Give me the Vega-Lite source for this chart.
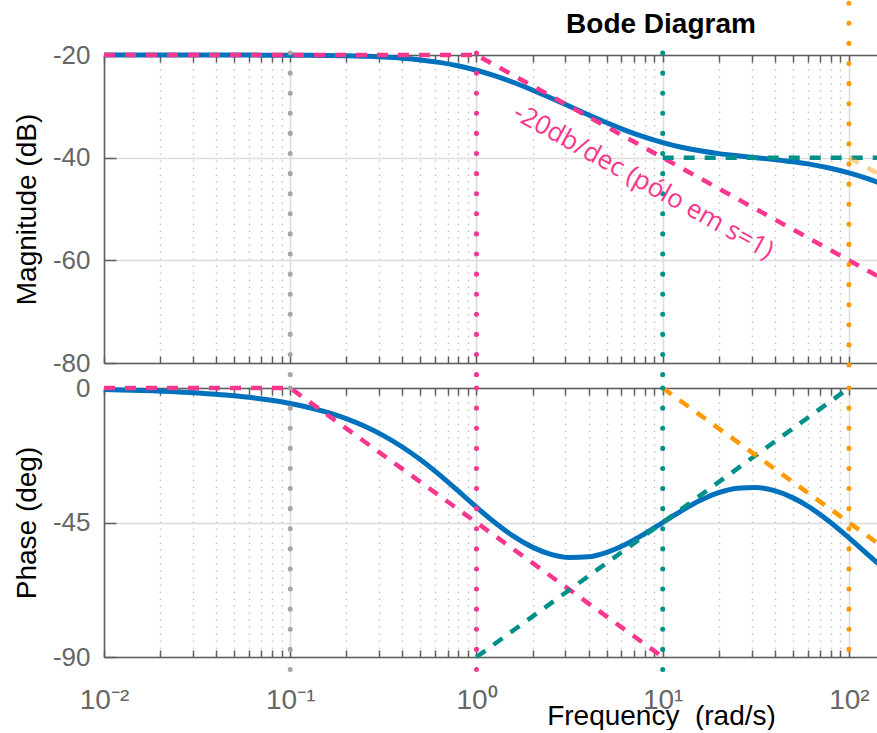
{
  "$schema": "https://vega.github.io/schema/vega-lite/v6.json",
  "autosize": {"type": "pad"},
  "padding": {"left": 12, "top": 0, "right": -3, "bottom": 0},
  "background": "white",
  "config": {
    "view": {"stroke": null},
    "font": "Liberation Sans",
    "axis": {"labelFont": "Liberation Sans", "titleFont": "Liberation Sans"},
    "title": {"font": "Liberation Sans"}
  },
  "datasets": {
    "resp": [
      {"w": 0.01, "mag": -20.00, "phase": -0.52},
      {"w": 0.01585, "mag": -20.00, "phase": -0.83},
      {"w": 0.02512, "mag": -20.00, "phase": -1.31},
      {"w": 0.03981, "mag": -20.01, "phase": -2.08},
      {"w": 0.05012, "mag": -20.01, "phase": -2.61},
      {"w": 0.0631, "mag": -20.02, "phase": -3.29},
      {"w": 0.07943, "mag": -20.03, "phase": -4.13},
      {"w": 0.1, "mag": -20.04, "phase": -5.20},
      {"w": 0.1259, "mag": -20.07, "phase": -6.53},
      {"w": 0.1585, "mag": -20.11, "phase": -8.19},
      {"w": 0.1995, "mag": -20.17, "phase": -10.25},
      {"w": 0.2512, "mag": -20.26, "phase": -12.80},
      {"w": 0.3162, "mag": -20.41, "phase": -15.92},
      {"w": 0.3981, "mag": -20.63, "phase": -19.65},
      {"w": 0.5012, "mag": -20.96, "phase": -24.04},
      {"w": 0.631, "mag": -21.44, "phase": -29.00},
      {"w": 0.7943, "mag": -22.10, "phase": -34.37},
      {"w": 1, "mag": -22.97, "phase": -39.86},
      {"w": 1.259, "mag": -24.06, "phase": -45.09},
      {"w": 1.585, "mag": -25.35, "phase": -49.65},
      {"w": 1.995, "mag": -26.81, "phase": -53.24},
      {"w": 2.512, "mag": -28.38, "phase": -55.64},
      {"w": 3.162, "mag": -30.00, "phase": -56.71},
      {"w": 3.981, "mag": -31.63, "phase": -56.48},
      {"w": 5.012, "mag": -33.21, "phase": -54.97},
      {"w": 6.31, "mag": -34.67, "phase": -52.36},
      {"w": 7.943, "mag": -35.97, "phase": -48.90},
      {"w": 10, "mag": -37.08, "phase": -45.00},
      {"w": 12.59, "mag": -37.97, "phase": -41.10},
      {"w": 15.85, "mag": -38.67, "phase": -37.65},
      {"w": 19.95, "mag": -39.21, "phase": -35.03},
      {"w": 25.12, "mag": -39.63, "phase": -33.52},
      {"w": 31.62, "mag": -40.00, "phase": -33.29},
      {"w": 39.81, "mag": -40.38, "phase": -34.36},
      {"w": 50.12, "mag": -40.81, "phase": -36.76},
      {"w": 63.1, "mag": -41.35, "phase": -40.34},
      {"w": 79.43, "mag": -42.06, "phase": -44.92},
      {"w": 100, "mag": -42.97, "phase": -50.14},
      {"w": 125.9, "mag": -44.10, "phase": -55.63},
      {"w": 145, "mag": -44.91, "phase": -58.95}
    ],
    "asymMag": [
      {"series": "pole1", "w": 0.01, "mag": -20},
      {"series": "pole1", "w": 1, "mag": -20},
      {"series": "pole1", "w": 145, "mag": -63.23},
      {"series": "zero10", "w": 10, "mag": -40},
      {"series": "zero10", "w": 145, "mag": -40},
      {"series": "pole100", "w": 100, "mag": -40},
      {"series": "pole100", "w": 145, "mag": -43.23}
    ],
    "asymPhase": [
      {"series": "pole1", "w": 0.01, "phase": 0},
      {"series": "pole1", "w": 0.1, "phase": 0},
      {"series": "pole1", "w": 10, "phase": -90},
      {"series": "zero10", "w": 1, "phase": -90},
      {"series": "zero10", "w": 100, "phase": 0},
      {"series": "pole100", "w": 10, "phase": 0},
      {"series": "pole100", "w": 145, "phase": -52.26}
    ],
    "guides": [
      {"series": "ref", "w": 0.1, "magTop": -19.6, "magEnd": -84, "phTop": 0, "phEnd": -95},
      {"series": "pole1", "w": 1, "magTop": -19.6, "magEnd": -84, "phTop": 0, "phEnd": -95},
      {"series": "zero10", "w": 10, "magTop": -19.6, "magEnd": -84, "phTop": 0, "phEnd": -95},
      {"series": "pole100", "w": 100, "magTop": -9.9, "magEnd": -84, "phTop": 0, "phEnd": -93}
    ],
    "note": [
      {"w": 7.88, "mag": -44.7, "label": "-20db/dec (pólo em s=1)"}
    ]
  },
  "spacing": 25,
  "bounds": "flush",
  "vconcat": [
    {
      "width": 775,
      "height": 308,
      "title": {"text": "Bode Diagram", "fontSize": 28, "fontWeight": "bold", "color": "black", "frame": "group", "anchor": "middle", "dx": 169.5, "offset": -60, "baseline": "alphabetic"},
      "resolve": {"axis": {"x": "independent"}},
      "layer": [
        {
          "data": {"name": "resp"},
          "mark": {"type": "line", "color": "#0072bd", "strokeWidth": 5, "interpolate": "monotone"},
          "encoding": {
            "x": {
              "field": "w", "type": "quantitative",
              "scale": {"type": "log", "domain": [0.01, 145], "nice": false},
              "axis": {
                "orient": "bottom", "title": null, "labels": false,
                "values": [0.01,0.02,0.03,0.04,0.05,0.06,0.07,0.08,0.09,0.1,0.2,0.3,0.4,0.5,0.6,0.7,0.8,0.9,1,2,3,4,5,6,7,8,9,10,20,30,40,50,60,70,80,90,100],
                "tickSize": -7, "tickColor": "#5e5e5e", "tickWidth": 1.5,
                "domainColor": "#5e5e5e", "domainWidth": 1.5,
                "grid": true,
                "gridColor": {"condition": {"test": "indexof([0.01,0.1,1,10,100], datum.value) < 0", "value": "#c2c2c2"}, "value": "#dcdcdc"},
                "gridDash": {"condition": {"test": "indexof([0.01,0.1,1,10,100], datum.value) < 0", "value": [1.5, 5.5]}, "value": []},
                "gridWidth": {"condition": {"test": "indexof([0.01,0.1,1,10,100], datum.value) < 0", "value": 1.4}, "value": 1.6}
              }
            },
            "y": {
              "field": "mag", "type": "quantitative",
              "scale": {"domain": [-80, -20], "nice": false, "zero": false},
              "axis": {
                "orient": "left", "values": [-80, -60, -40, -20],
                "labelExpr": "'' + datum.value",
                "labelFontSize": 26, "labelColor": "#666666", "labelPadding": 26, "labelBaseline": "middle",
                "tickSize": -12, "tickColor": "#5e5e5e", "tickWidth": 1.5,
                "domainColor": "#5e5e5e", "domainWidth": 1.5,
                "grid": true, "gridColor": "#dcdcdc", "gridWidth": 1.6,
                "title": "Magnitude (dB)", "titleFontSize": 28, "titleFontWeight": "normal", "titleColor": "black",
                "titleAngle": -90, "titleX": -69, "titleY": 154, "titleAlign": "center", "titleBaseline": "alphabetic"
              }
            }
          }
        },
        {
          "data": {"name": "asymMag"},
          "mark": {"type": "line", "strokeWidth": 4.5, "strokeDash": [11, 10]},
          "encoding": {
            "x": {
              "field": "w", "type": "quantitative",
              "scale": {"type": "log", "domain": [0.01, 145], "nice": false},
              "axis": {
                "orient": "top", "title": null, "labels": false, "grid": false,
                "values": [0.01,0.02,0.03,0.04,0.05,0.06,0.07,0.08,0.09,0.1,0.2,0.3,0.4,0.5,0.6,0.7,0.8,0.9,1,2,3,4,5,6,7,8,9,10,20,30,40,50,60,70,80,90,100],
                "tickSize": -7, "tickColor": "#5e5e5e", "tickWidth": 1.5,
                "domainColor": "#5e5e5e", "domainWidth": 1.5
              }
            },
            "y": {"field": "mag", "type": "quantitative", "scale": {"domain": [-80, -20], "nice": false, "zero": false}},
            "color": {"field": "series", "type": "nominal", "scale": {"domain": ["ref", "pole1", "zero10", "pole100"], "range": ["#a6a6a6", "#f7368e", "#00908a", "#ff9900"]}, "legend": null},
            "opacity": {"condition": {"test": "datum.series === 'pole100'", "value": 0.45}, "value": 1}
          }
        },
        {
          "data": {"name": "guides"},
          "mark": {"type": "rule", "strokeWidth": 5, "strokeDash": [0.1, 20], "strokeCap": "round"},
          "encoding": {
            "x": {"field": "w", "type": "quantitative", "scale": {"type": "log", "domain": [0.01, 145], "nice": false}, "axis": null},
            "y": {"field": "magTop", "type": "quantitative", "scale": {"domain": [-80, -20], "nice": false, "zero": false}},
            "y2": {"field": "magEnd"},
            "color": {"field": "series", "type": "nominal", "scale": {"domain": ["ref", "pole1", "zero10", "pole100"], "range": ["#a6a6a6", "#f7368e", "#00908a", "#ff9900"]}, "legend": null}
          }
        },
        {
          "data": {"name": "note"},
          "mark": {"type": "text", "angle": 29, "font": "Open Sans", "fontSize": 26, "color": "#f7368e", "align": "center", "baseline": "middle"},
          "encoding": {
            "x": {"field": "w", "type": "quantitative", "scale": {"type": "log", "domain": [0.01, 145], "nice": false}, "axis": null},
            "y": {"field": "mag", "type": "quantitative", "scale": {"domain": [-80, -20], "nice": false, "zero": false}},
            "text": {"field": "label"}
          }
        }
      ]
    },
    {
      "width": 775,
      "height": 269,
      "resolve": {"axis": {"x": "independent"}},
      "layer": [
        {
          "data": {"name": "resp"},
          "mark": {"type": "line", "color": "#0072bd", "strokeWidth": 5, "interpolate": "monotone"},
          "encoding": {
            "x": {
              "field": "w", "type": "quantitative",
              "scale": {"type": "log", "domain": [0.01, 145], "nice": false},
              "axis": {
                "orient": "bottom",
                "values": [0.01,0.02,0.03,0.04,0.05,0.06,0.07,0.08,0.09,0.1,0.2,0.3,0.4,0.5,0.6,0.7,0.8,0.9,1,2,3,4,5,6,7,8,9,10,20,30,40,50,60,70,80,90,100],
                "labelExpr": "datum.value == 0.01 ? '10⁻²' : datum.value == 0.1 ? '10⁻¹' : datum.value == 1 ? '10⁰' : datum.value == 10 ? '10¹' : datum.value == 100 ? '10²' : ''",
                "labelFontSize": 28, "labelColor": "#666666", "labelPadding": 58, "labelBaseline": "alphabetic",
                "labelOverlap": false, "labelFlush": false, "labelBound": false,
                "tickSize": -7, "tickColor": "#5e5e5e", "tickWidth": 1.5,
                "domainColor": "#5e5e5e", "domainWidth": 1.5,
                "grid": true,
                "gridColor": {"condition": {"test": "indexof([0.01,0.1,1,10,100], datum.value) < 0", "value": "#c2c2c2"}, "value": "#dcdcdc"},
                "gridDash": {"condition": {"test": "indexof([0.01,0.1,1,10,100], datum.value) < 0", "value": [1.5, 5.5]}, "value": []},
                "gridWidth": {"condition": {"test": "indexof([0.01,0.1,1,10,100], datum.value) < 0", "value": 1.4}, "value": 1.6},
                "title": "Frequency\u00a0\u00a0(rad/s)", "titleFontSize": 28, "titleFontWeight": "normal", "titleColor": "black",
                "titleX": 557, "titleY": 67, "titleAlign": "center", "titleBaseline": "alphabetic"
              }
            },
            "y": {
              "field": "phase", "type": "quantitative",
              "scale": {"domain": [-90, 0], "nice": false, "zero": false},
              "axis": {
                "orient": "left", "values": [-90, -45, 0],
                "labelExpr": "'' + datum.value",
                "labelFontSize": 26, "labelColor": "#666666", "labelPadding": 26, "labelBaseline": "middle",
                "tickSize": -12, "tickColor": "#5e5e5e", "tickWidth": 1.5,
                "domainColor": "#5e5e5e", "domainWidth": 1.5,
                "grid": true, "gridColor": "#dcdcdc", "gridWidth": 1.6,
                "title": "Phase (deg)", "titleFontSize": 28, "titleFontWeight": "normal", "titleColor": "black",
                "titleAngle": -90, "titleX": -69, "titleY": 134.5, "titleAlign": "center", "titleBaseline": "alphabetic"
              }
            }
          }
        },
        {
          "data": {"name": "asymPhase"},
          "mark": {"type": "line", "strokeWidth": 4.5, "strokeDash": [11, 10]},
          "encoding": {
            "x": {
              "field": "w", "type": "quantitative",
              "scale": {"type": "log", "domain": [0.01, 145], "nice": false},
              "axis": {
                "orient": "top", "title": null, "labels": false, "grid": false,
                "values": [0.01,0.02,0.03,0.04,0.05,0.06,0.07,0.08,0.09,0.1,0.2,0.3,0.4,0.5,0.6,0.7,0.8,0.9,1,2,3,4,5,6,7,8,9,10,20,30,40,50,60,70,80,90,100],
                "tickSize": -7, "tickColor": "#5e5e5e", "tickWidth": 1.5,
                "domainColor": "#5e5e5e", "domainWidth": 1.5
              }
            },
            "y": {"field": "phase", "type": "quantitative", "scale": {"domain": [-90, 0], "nice": false, "zero": false}},
            "color": {"field": "series", "type": "nominal", "scale": {"domain": ["ref", "pole1", "zero10", "pole100"], "range": ["#a6a6a6", "#f7368e", "#00908a", "#ff9900"]}, "legend": null}
          }
        },
        {
          "data": {"name": "guides"},
          "mark": {"type": "rule", "strokeWidth": 5, "strokeDash": [0.1, 20], "strokeCap": "round"},
          "encoding": {
            "x": {"field": "w", "type": "quantitative", "scale": {"type": "log", "domain": [0.01, 145], "nice": false}, "axis": null},
            "y": {"field": "phTop", "type": "quantitative", "scale": {"domain": [-90, 0], "nice": false, "zero": false}},
            "y2": {"field": "phEnd"},
            "color": {"field": "series", "type": "nominal", "scale": {"domain": ["ref", "pole1", "zero10", "pole100"], "range": ["#a6a6a6", "#f7368e", "#00908a", "#ff9900"]}, "legend": null}
          }
        }
      ]
    }
  ]
}
